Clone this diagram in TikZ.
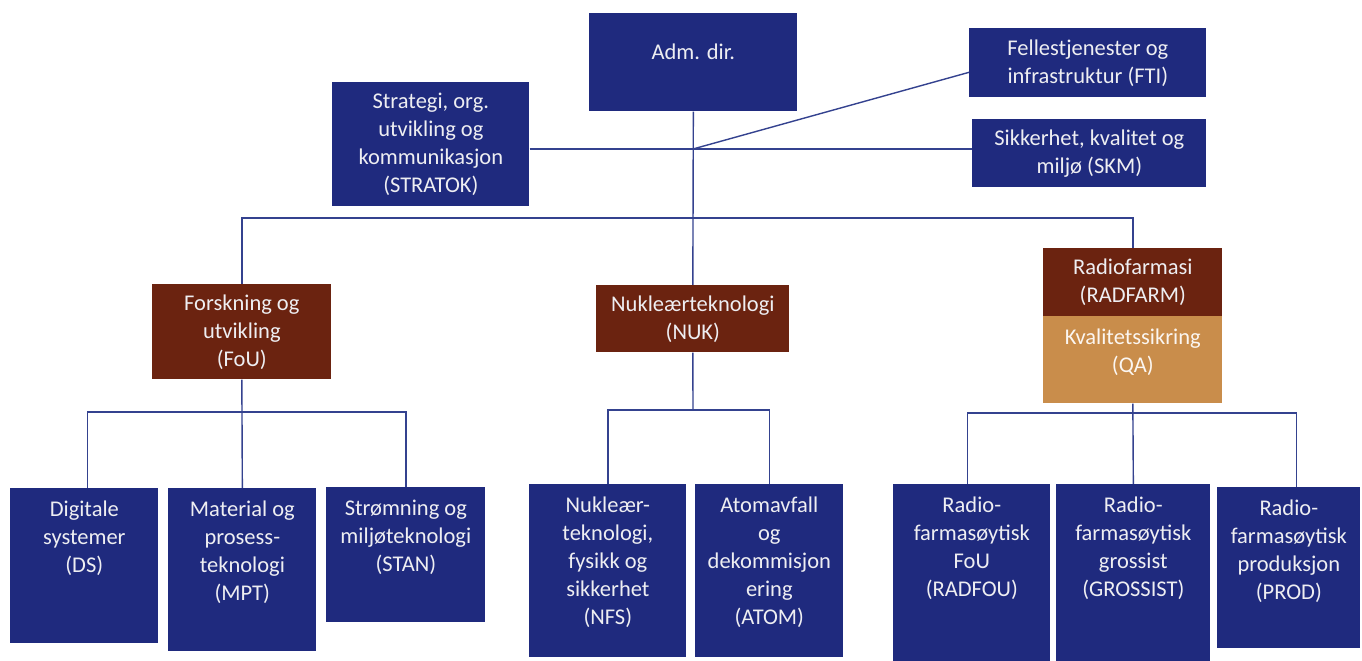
\documentclass[tikz,border=0pt]{standalone}
\usepackage{fontspec}
\setmainfont{Carlito}
\usetikzlibrary{positioning}
\definecolor{unitblue}{HTML}{1F2A7E}
\definecolor{unitbrown}{HTML}{6B2310}
\definecolor{unittan}{HTML}{C98D4B}
\definecolor{lineblue}{HTML}{34428F}
\definecolor{textwhite}{HTML}{EEEEF2}

\begin{document}
\begin{tikzpicture}[x=0.02cm,y=-0.02cm,every node/.style={font=\fontsize{12.8}{15.9}\selectfont},box/.style={fill=unitblue,anchor=north west,inner sep=0pt,text=textwhite,align=center},txt/.style={inner sep=0pt,text=textwhite,align=center},link/.style={draw=lineblue,line width=0.8pt}]
\useasboundingbox (0,0) rectangle (1362,661);
% top level
\node[box,minimum width=4.16cm,minimum height=1.96cm] (adm) at (589,13) {};\node[txt,below=0.62cm of adm.north] (adm-t) {Adm. dir.};
\node[box,minimum width=4.74cm,minimum height=1.38cm] (fti) at (969,28) {Fellestjenester og\\infrastruktur (FTI)};
\node[box,minimum width=4.68cm,minimum height=1.36cm] (skm) at (972,119) {Sikkerhet, kvalitet og\\miljø (SKM)};
\node[box,minimum width=3.94cm,minimum height=2.48cm] (stratok) at (332,82) {Strategi, org.\\utvikling og\\kommunikasjon\\(STRATOK)};
% divisions
\node[box,fill=unitbrown,minimum width=3.58cm,minimum height=1.90cm] (fou) at (152,284) {Forskning og\\utvikling\\(FoU)};
\node[box,fill=unitbrown,minimum width=3.86cm,minimum height=1.34cm] (nuk) at (596,285) {Nukleærteknologi\\(NUK)};
\node[box,fill=unitbrown,minimum width=3.58cm,minimum height=1.36cm] (radfarm) at (1043,248) {Radiofarmasi\\(RADFARM)};
\node[box,fill=unittan,minimum width=3.58cm,minimum height=1.74cm] (qa) at (1043,316) {};\node[txt,text=white!92!unittan,below=0.26cm of qa.north] (qa-t) {Kvalitetssikring\\(QA)};
% departments
\node[box,minimum width=2.96cm,minimum height=3.10cm] (ds) at (10,488) {};\node[txt,below=0.25cm of ds.north] (ds-t) {Digitale\\systemer\\(DS)};
\node[box,minimum width=2.96cm,minimum height=3.26cm] (mpt) at (168,488) {};\node[txt,below=0.25cm of mpt.north] (mpt-t) {Material og\\prosess-\\teknologi\\(MPT)};
\node[box,minimum width=3.18cm,minimum height=2.70cm] (stan) at (326,487) {};\node[txt,below=0.25cm of stan.north] (stan-t) {Strømning og\\miljøteknologi\\(STAN)};
\node[box,minimum width=3.14cm,minimum height=3.46cm] (nfs) at (529,484) {};\node[txt,below=0.25cm of nfs.north] (nfs-t) {Nukleær-\\teknologi,\\fysikk og\\sikkerhet\\(NFS)};
\node[box,minimum width=2.96cm,minimum height=3.46cm] (atom) at (695,484) {};\node[txt,below=0.25cm of atom.north] (atom-t) {Atomavfall\\og\\dekommisjon\\ering\\(ATOM)};
\node[box,minimum width=3.14cm,minimum height=3.54cm] (radfou) at (893,484) {};\node[txt,below=0.25cm of radfou.north] (radfou-t) {Radio-\\farmasøytisk\\FoU\\(RADFOU)};
\node[box,minimum width=3.08cm,minimum height=3.54cm] (grossist) at (1056,484) {};\node[txt,below=0.25cm of grossist.north] (grossist-t) {Radio-\\farmasøytisk\\grossist\\(GROSSIST)};
\node[box,minimum width=2.86cm,minimum height=3.22cm] (prod) at (1217,487) {};\node[txt,below=0.25cm of prod.north] (prod-t) {Radio-\\farmasøytisk\\produksjon\\(PROD)};
% connectors
\coordinate (hub) at (693,149);\coordinate (bus) at (693,218);\coordinate (foubus) at (242,412);\coordinate (nukbus) at (693,410);\coordinate (qabus) at (1132,413);
\draw[link] (adm.south) -- (nuk.north);
\draw[link] (hub -| stratok.east) -- (hub -| skm.west);
\draw[link] (hub) -- ([yshift=-0.19cm]fti.west);
\draw[link] (fou.north) -- (fou.north |- bus) -- (radfarm.north |- bus) -- (radfarm.north);
\draw[link] (fou.south) -- (mpt.north);\draw[link] ([xshift=0.06cm]ds.north) |- (foubus) -| (stan.north);
\draw[link] (nuk.south) -- (nukbus);\draw[link] (nfs.north) |- (nukbus) -| (atom.north);
\draw[link] (qa.south) -- (grossist.north);\draw[link] ([xshift=-0.09cm]radfou.north) |- (qabus) -| ([xshift=0.15cm]prod.north);
\end{tikzpicture}
\end{document}
